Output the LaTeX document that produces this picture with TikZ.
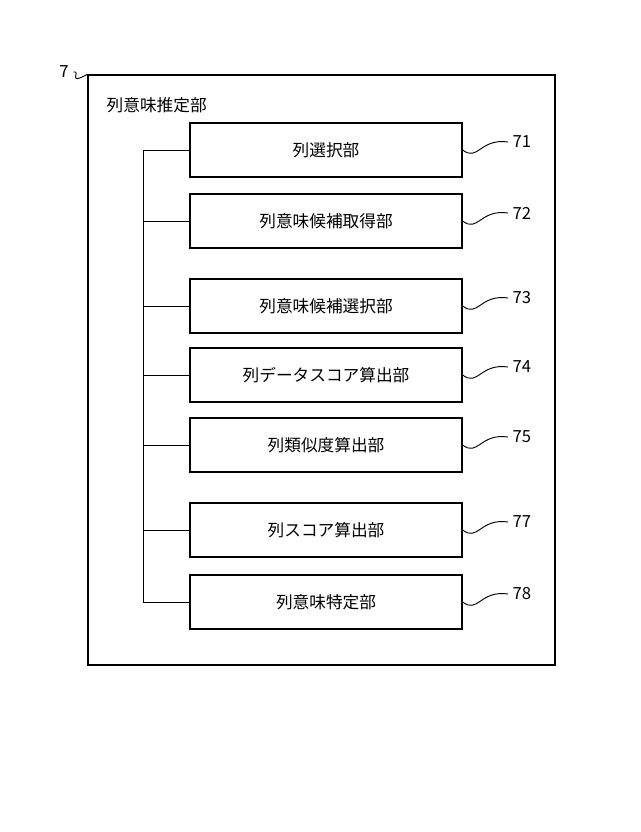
\documentclass[tikz,border=0pt]{standalone}
\usepackage{fontspec}
\setmainfont{Noto Sans CJK JP}
\begin{document}
\begin{tikzpicture}[x=0.75pt,y=-0.75pt,
  unit/.style={draw,line width=1pt,minimum width=272*0.75pt,minimum height=54*0.75pt,inner sep=0pt,font=\fontsize{12.5}{14}\selectfont},
  lbl/.style={font=\fontsize{12.5}{14}\selectfont},
  sq/.style={line width=0.7pt}]
\useasboundingbox (0,0) rectangle (640,832);
\node[draw,line width=1pt,minimum width=467*0.75pt,minimum height=590*0.75pt,inner sep=0pt] (outer) at (321.5,370) {};
\node[lbl,anchor=west] (title) at (102,105) {列意味推定部};
\node[lbl] (n7) at (64,72) {7};
\draw[sq] (n7.east) .. controls (82,70) and (66,86) .. (outer.north west);
\foreach \i/\y/\t/\n in {1/150/列選択部/71, 2/221/列意味候補取得部/72, 3/306/列意味候補選択部/73, 4/375/列データスコア算出部/74, 5/445/列類似度算出部/75, 6/530/列スコア算出部/77, 7/602/列意味特定部/78}{
  \node[unit] (b\i) at (326,\y) {\t};
  \node[lbl,anchor=west] (l\i) at (508,\y-8) {\n};
  \draw[sq] (b\i.east) .. controls (478,\y+12) and (480,\y-12) .. (l\i.west);
  \draw[line width=0.7pt] (143,\y) -- (b\i.west);
}
\draw[line width=0.7pt] (143,150) -- (143,602);
\end{tikzpicture}
\end{document}
